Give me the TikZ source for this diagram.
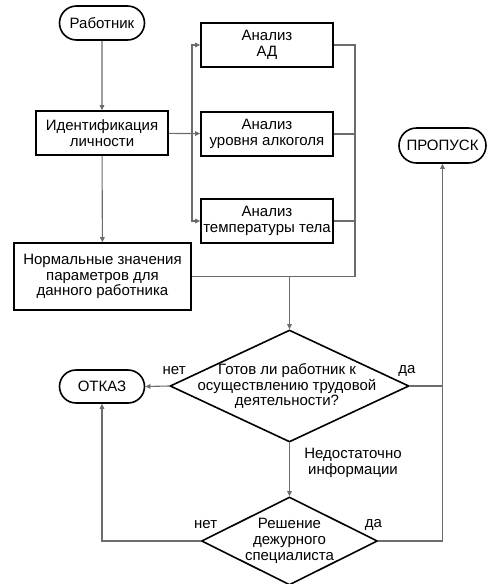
\documentclass[tikz,border=0pt]{standalone}
\usepackage{fontspec}
\setmainfont{Liberation Sans}
\usepackage{tikz}
\usetikzlibrary{positioning, arrows.meta, shapes.geometric, shapes.misc}

\begin{document}
\begin{tikzpicture}[
        x=1pt, y=-1pt,
        font=\fontsize{15}{15.7}\selectfont,
        >={Triangle[length=5pt, width=4.5pt]},
        % Styles
        block/.style={% For the process boxes
            rectangle,
            draw,
            line width=1.6pt,
            align=center,
            inner sep=1pt,
            },
        term/.style={% For start and end points
            rounded rectangle,
            draw,
            line width=1.6pt,
            inner sep=1pt,
            },
        decision/.style={% For the questions
            diamond,
            draw,
            line width=1.6pt,
            inner sep=0pt,
            },
        conn/.style={% Gray connectors
            draw=gray!85!black,
            line width=1.1pt,
            },
        mylabel/.style={% Small texts on the connectors
            inner sep=1pt,
            align=center,
            },
        ]
    \useasboundingbox (0,0) rectangle (489,584);

    % Nodes
        % Left column
        \node [term, minimum width=87pt, minimum height=34pt] (worker) at (102,23) {Работник};
        \node [block, minimum width=132pt, minimum height=44pt] (ident) at (102,133) {Идентификация\\личности};
        \node [block, minimum width=177pt, minimum height=67pt] (norm) at (102.5,276.5) {Нормальные значения\\параметров для\\данного работника};

        % Analyses
        \node [block, minimum width=132pt, minimum height=44pt] (ad) at (267,45) {Анализ\\АД};
        \node [block, minimum width=132pt, minimum height=44pt] (alc) at (267,134) {Анализ\\уровня алкоголя};
        \node [block, minimum width=132pt, minimum height=44pt] (temp) at (267,221) {Анализ\\температуры тела};

        % Decisions, the text is put over the shape
        \node [decision, minimum width=239pt, minimum height=112pt] (q1) at (289.5,386) {};
        \node [mylabel] (q1text) at (287,386) {Готов ли работник к\\осуществлению трудовой\\деятельности?};
        \node [decision, minimum width=176pt, minimum height=88pt] (q2) at (289.5,541) {};
        \node [mylabel] (q2text) at (289.5,541) {Решение\\дежурного\\специалиста};

        % Ends
        \node [term, minimum width=87pt, minimum height=33pt] (refuse) at (102,386.5) {ОТКАЗ};
        \node [term, minimum width=89pt, minimum height=35pt] (pass) at (442.5,145.5) {ПРОПУСК};

        % Bus points
        \coordinate (splitL) at (192,134);
        \coordinate (joinR) at (355,276.5);

    % Connect all.
        \draw [conn, ->] (worker) -- (ident);
        \draw [conn, ->] (ident) -- (alc);
        \draw [conn, ->] (splitL) |- (ad.west);
        \draw [conn, ->] (splitL) |- (temp.west);
        \draw [conn, ->] (ident) -- (norm);

        \draw [conn] (ad.east) -| (joinR);
        \draw [conn] (alc.east) -- (alc.east -| joinR);
        \draw [conn] (temp.east) -- (temp.east -| joinR);
        \draw [conn] (norm.east) -- (joinR);
        \draw [conn, ->] (norm.east -| q1.north) -- (q1.north);

        % Answers
        \draw [conn, ->] (q1.west) -- node[mylabel, pos=0, xshift=5pt, yshift=15pt] (no1) {нет} (refuse.east);
        \draw [conn, ->] (q1.east) -| node[mylabel, pos=0, xshift=-3pt, yshift=15pt] (yes1) {да} (pass.south);
        \draw [conn, ->] (q1.south) -- node[mylabel, xshift=63.5pt, yshift=6.5pt] (more) {Недостаточно\\информации} (q2.north);
        \draw [conn, ->] (q2.west) -| node[mylabel, pos=0, xshift=5pt, yshift=16pt] (no2) {нет} (refuse.south);
        \draw [conn] (q2.east) -| node[mylabel, pos=0, xshift=-5pt, yshift=16pt] (yes2) {да} (q1.east -| pass.south);
\end{tikzpicture}
\end{document}
